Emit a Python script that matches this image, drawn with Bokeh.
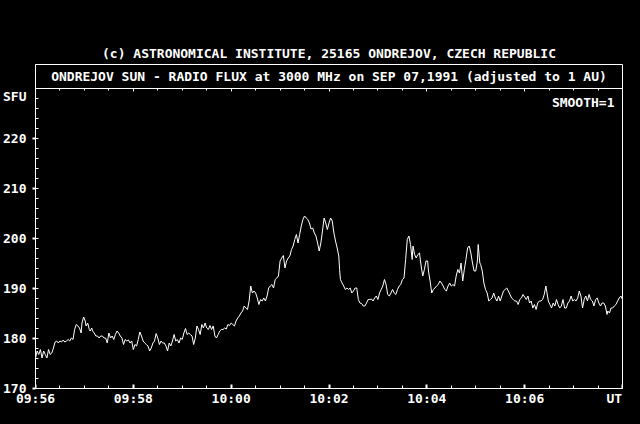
from bokeh.plotting import figure
from bokeh.models import FixedTicker, LinearAxis, Label, Range1d, GlobalInlineStyleSheet
from bokeh.embed import file_html
from bokeh.resources import INLINE

# ---------------- texts ----------------
header_text = "(c) ASTRONOMICAL INSTITUTE, 25165 ONDREJOV, CZECH REPUBLIC"
box_title_text = "ONDREJOV SUN - RADIO FLUX at 3000 MHz on SEP 07,1991 (adjusted to 1 AU)"
unit_text = "SFU"
smooth_text = "SMOOTH=1"
time_unit_text = "UT"

# ---------------- ticks ----------------
x_tick_seconds = [0, 120, 240, 360, 480, 600, 720]          # seconds after 09:56 UT
x_tick_labels = ["09:56", "09:58", "10:00", "10:02", "10:04", "10:06"]
x_minor_seconds = list(range(0, 721, 30))
y_ticks = [170, 180, 190, 200, 210, 220]
y_minor_ticks = list(range(170, 229, 2))
y_plot_top = 230
y_box_top = 234.8
unit_label_pos = 228.4      # where "SFU" sits on the flux axis
time_unit_label_pos = 710   # where "UT" sits on the time axis

# ---------------- data (seconds after 09:56:00 UT, flux in SFU) ----------------
seconds = [
    0, 2, 4, 6, 8, 10, 12, 14, 16, 18, 20, 22, 24, 26, 28, 30, 32, 34, 36, 38,
    40, 42, 44, 46, 48, 50, 52, 54, 56, 57, 59, 61, 62, 64, 66, 67, 69, 70, 72, 74,
    76, 78, 80, 82, 84, 86, 88, 90, 92, 94, 96, 98, 100, 102, 104, 106, 108, 110, 112, 114,
    116, 118, 120, 122, 124, 126, 128, 130, 132, 134, 136, 138, 140, 142, 144, 146, 148, 150, 152, 154,
    156, 158, 160, 162, 164, 166, 168, 170, 172, 174, 176, 178, 180, 182, 184, 186, 188, 190, 192, 194,
    196, 198, 200, 202, 204, 206, 208, 210, 212, 214, 216, 218, 220, 222, 224, 226, 228, 230, 232, 234,
    236, 238, 240, 242, 244, 246, 248, 250, 252, 254, 256, 258, 260, 262, 264, 266, 268, 270, 272, 274,
    276, 278, 280, 282, 284, 286, 288, 290, 292, 294, 296, 298, 300, 302, 304, 306, 308, 310, 312, 314,
    316, 318, 320, 322, 324, 326, 328, 330, 332, 334, 336, 338, 340, 342, 344, 346, 348, 350, 352, 354,
    356, 358, 360, 362, 364, 366, 368, 370, 372, 373, 374, 376, 378, 380, 382, 384, 386, 388, 390, 392,
    394, 396, 398, 400, 402, 404, 406, 408, 410, 412, 414, 416, 418, 420, 422, 424, 426, 428, 430, 432,
    434, 436, 438, 440, 442, 444, 446, 448, 450, 452, 454, 456, 458, 460, 462, 463, 465, 467, 469, 471,
    473, 475, 477, 479, 481, 482, 484, 486, 488, 490, 492, 494, 496, 498, 500, 502, 504, 506, 508, 510,
    512, 514, 516, 518, 520, 522, 524, 526, 528, 530, 532, 534, 536, 538, 540, 542, 543, 545, 546, 548,
    550, 552, 554, 556, 558, 560, 562, 564, 566, 568, 570, 572, 574, 576, 578, 580, 582, 584, 586, 588,
    590, 592, 594, 596, 598, 600, 602, 604, 606, 608, 610, 612, 614, 616, 618, 620, 622, 624, 626, 627,
    629, 631, 633, 635, 637, 639, 641, 643, 645, 647, 649, 651, 653, 655, 657, 659, 661, 663, 665, 667,
    669, 671, 673, 675, 677, 679, 681, 683, 685, 687, 689, 691, 693, 695, 697, 699, 701, 702, 704, 706,
    708, 710, 712, 714, 716, 718, 720,
]
sfu = [
    176.1, 177.5, 176.8, 177.8, 176.1, 177.5, 176.8, 176.1, 177.8, 176.8, 177.1, 178.1, 179.3, 179.5, 179.1, 179.5, 179.3, 179.7, 179.3, 179.5,
    179.8, 179.5, 180.1, 179.8, 181.8, 182.8, 182.5, 182.1, 181.1, 183.1, 184.3, 183.5, 182.5, 183.1, 181.8, 181.5, 182.1, 181.5, 181.1, 180.5,
    180.5, 180.1, 180.5, 180.5, 180.1, 180.1, 179.1, 181.1, 180.1, 180.5, 179.8, 180.8, 181.5, 181.1, 180.5, 180.1, 178.8, 179.8, 179.5, 179.7,
    179.1, 179.5, 177.8, 178.8, 178.5, 179.8, 181.3, 180.5, 179.5, 179.1, 178.8, 178.5, 177.5, 178.1, 179.1, 179.5, 181.0, 180.1, 178.8, 179.5,
    179.1, 179.1, 178.5, 177.5, 179.1, 178.5, 179.5, 180.8, 179.5, 179.8, 179.1, 180.1, 179.8, 181.1, 182.0, 180.8, 181.1, 180.8, 180.5, 178.8,
    180.1, 182.5, 181.8, 180.8, 182.8, 182.1, 183.1, 182.1, 181.8, 182.6, 181.8, 182.5, 180.5, 180.1, 180.8, 181.5, 181.8, 181.8, 182.1, 181.9,
    182.8, 182.6, 183.1, 182.8, 182.5, 183.5, 184.1, 184.5, 185.1, 185.5, 186.5, 186.1, 185.8, 187.5, 190.5, 189.1, 189.5, 189.1, 188.1, 186.8,
    187.8, 187.5, 188.1, 187.5, 188.5, 190.1, 190.5, 190.8, 190.1, 191.8, 192.1, 192.5, 195.5, 196.1, 196.6, 194.1, 195.5, 196.1, 196.5, 197.8,
    198.5, 199.8, 200.8, 199.1, 200.8, 202.5, 203.8, 204.5, 204.1, 203.8, 203.1, 201.9, 202.1, 201.1, 200.5, 199.1, 197.5, 199.1, 201.5, 204.1,
    203.1, 201.8, 203.1, 204.1, 203.5, 201.1, 199.5, 198.1, 196.5, 193.8, 191.8, 191.1, 190.5, 189.8, 190.1, 189.8, 190.1, 189.1, 189.5, 190.1,
    190.1, 187.8, 187.1, 187.0, 186.5, 186.5, 187.1, 187.8, 187.8, 187.9, 187.5, 188.1, 188.5, 187.8, 189.1, 189.8, 190.5, 191.8, 190.8, 188.8,
    188.5, 189.1, 189.8, 189.1, 188.8, 189.8, 190.5, 190.8, 191.8, 192.1, 195.8, 199.8, 200.5, 198.8, 195.8, 198.5, 196.8, 196.1, 196.8, 197.1,
    194.5, 192.5, 193.8, 195.5, 195.5, 193.5, 191.5, 189.1, 189.8, 190.1, 190.5, 190.8, 191.5, 191.1, 190.5, 189.8, 189.5, 190.5, 191.1, 190.5,
    190.8, 190.5, 192.5, 193.8, 193.1, 195.1, 191.5, 193.8, 195.8, 198.1, 198.5, 197.1, 195.1, 193.5, 193.5, 195.5, 198.8, 195.1, 194.8, 193.5,
    191.1, 189.8, 189.1, 187.5, 187.8, 188.1, 189.1, 188.1, 187.5, 188.5, 187.5, 188.5, 189.5, 189.8, 190.1, 189.5, 188.8, 188.1, 187.8, 187.5,
    187.5, 186.8, 187.8, 188.1, 188.8, 188.3, 187.8, 188.5, 187.1, 187.5, 186.1, 186.8, 185.8, 187.1, 187.5, 187.5, 187.8, 188.8, 190.5, 189.5,
    187.5, 186.8, 186.1, 187.1, 186.5, 187.8, 186.8, 186.1, 186.5, 187.8, 186.1, 186.1, 187.1, 187.5, 188.5, 187.5, 187.8, 187.5, 188.1, 189.5,
    188.5, 186.1, 187.8, 188.5, 187.5, 188.8, 187.8, 187.5, 186.5, 187.8, 188.1, 187.1, 186.5, 187.1, 187.1, 186.5, 184.8, 185.5, 185.1, 186.1,
    186.1, 186.5, 186.8, 187.5, 188.1, 188.5, 187.8,
]

FONT = "DejaVu Sans Mono"
FSIZE = "13px"
FSTYLE = "bold"
FG = "white"
BG = "black"

p = figure(
    width=624, height=408,
    output_backend="svg", toolbar_location=None,
    x_range=Range1d(x_tick_seconds[0], x_tick_seconds[-1]),
    y_range=Range1d(y_ticks[0], y_box_top),
    background_fill_color=BG, border_fill_color=BG,
    outline_line_color=FG, outline_line_width=1,
    min_border_left=32, min_border_right=2, min_border_top=64, min_border_bottom=18,
    x_axis_location=None, y_axis_location=None,
)
p.stylesheets = [GlobalInlineStyleSheet(css="html, body { background: black; }")]
p.grid.visible = False

# header above the box
p.title.text = header_text
p.title.text_font = FONT
p.title.text_font_size = FSIZE
p.title.text_font_style = FSTYLE
p.title.text_color = FG
p.title.align = "center"
p.title.standoff = 7

label_style = dict(major_label_text_font=FONT, major_label_text_font_size=FSIZE,
                   major_label_text_font_style=FSTYLE, major_label_text_color=FG)
no_labels = dict(major_label_text_font_size="0px", major_label_text_color=None)

# ---- time axis: labels (outside the frame) ----
x_label_ticks = x_tick_seconds[:-1] + [time_unit_label_pos]
x_label_texts = x_tick_labels + [time_unit_text]
xa = LinearAxis(
    ticker=FixedTicker(ticks=x_label_ticks, minor_ticks=[]),
    major_label_overrides={t: lab for t, lab in zip(x_label_ticks, x_label_texts)},
    axis_line_color=FG, major_tick_line_color=None, minor_tick_line_color=None,
    major_tick_in=0, major_tick_out=0, minor_tick_in=0, minor_tick_out=0,
    major_label_standoff=2, axis_label_standoff=0, **label_style,
)
p.add_layout(xa, "below")
# ---- time axis: inward ticks on the bottom edge ----
xt = LinearAxis(
    fixed_location=y_ticks[0],
    ticker=FixedTicker(ticks=x_tick_seconds, minor_ticks=x_minor_seconds),
    axis_line_color=FG, major_tick_line_color=FG, minor_tick_line_color=FG,
    major_tick_in=4, major_tick_out=0, major_tick_line_width=2,
    minor_tick_in=3, minor_tick_out=0, **no_labels,
)
p.add_layout(xt, "below")

# ---- flux axis: labels + outward squares at the labelled values ----
y_label_ticks = y_ticks + [unit_label_pos]
ya = LinearAxis(
    ticker=FixedTicker(ticks=y_label_ticks, minor_ticks=y_ticks),
    major_label_overrides={unit_label_pos: unit_text},
    axis_line_color=FG, major_tick_line_color=None, minor_tick_line_color=FG,
    major_tick_in=0, major_tick_out=0, minor_tick_in=0, minor_tick_out=3,
    minor_tick_line_width=2,
    major_label_standoff=6, axis_label_standoff=0, **label_style,
)
p.add_layout(ya, "left")
# ---- flux axis: inward minor ticks ----
yt = LinearAxis(
    fixed_location=x_tick_seconds[0],
    ticker=FixedTicker(ticks=[], minor_ticks=y_minor_ticks),
    axis_line_color=FG, major_tick_line_color=None, minor_tick_line_color=FG,
    major_tick_in=0, major_tick_out=0, minor_tick_in=3, minor_tick_out=0, **no_labels,
)
p.add_layout(yt, "left")

# ---- line separating the title box from the plot, with inward ticks ----
top_axis = LinearAxis(
    fixed_location=y_plot_top,
    ticker=FixedTicker(ticks=x_tick_seconds, minor_ticks=x_minor_seconds),
    axis_line_color=FG, major_tick_line_color=FG, minor_tick_line_color=FG,
    major_tick_in=3, major_tick_out=0, minor_tick_in=2, minor_tick_out=0, **no_labels,
)
p.add_layout(top_axis, "above")

# curve
p.line(seconds, sfu, line_color=FG, line_width=1)

# texts inside the frame
common = dict(text_font=FONT, text_font_size=FSIZE, text_font_style=FSTYLE, text_color=FG)
p.add_layout(Label(x=(x_tick_seconds[0] + x_tick_seconds[-1]) / 2, y=(y_plot_top + y_box_top) / 2,
                   text=box_title_text, text_align="center", text_baseline="middle", **common))
p.add_layout(Label(x=x_tick_seconds[-1], y=227.2, x_offset=-8, text=smooth_text,
                   text_align="right", text_baseline="middle", **common))

open("out.html", "w").write(file_html(p, INLINE))
